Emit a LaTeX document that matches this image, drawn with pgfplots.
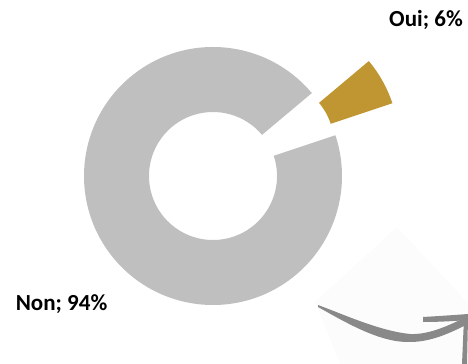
\documentclass[border=0pt]{standalone}
\usepackage{pgfplots}
\pgfplotsset{compat=1.18}
\usepackage{pgfplotstable}
\usepackage{fontspec}
\setmainfont{Carlito}
\definecolor{nongray}{HTML}{BFBFBF}
\definecolor{ouigold}{HTML}{BF9632}
\definecolor{arrowgray}{HTML}{898989}
\definecolor{shadowgray}{HTML}{FCFCFC}

\pgfplotstableread{
label value
Oui 6
Non 94
}\piedata

\begin{document}
\begin{tikzpicture}
\useasboundingbox (0,0) rectangle (468bp,364bp);
\clip (0,0) rectangle (468bp,364bp);
\pgfplotstablegetelem{0}{value}\of\piedata \let\vOui\pgfplotsretval
\pgfplotstablegetelem{1}{value}\of\piedata \let\vNon\pgfplotsretval
\pgfmathsetmacro{\aStart}{40}
\pgfmathsetmacro{\aOuiEnd}{\aStart-3.6*\vOui}
\pgfmathsetmacro{\aNonEnd}{\aStart+3.6*\vNon}
\pgfmathsetmacro{\aNonBack}{\aNonEnd+180}
\begin{axis}[width=468bp,height=364bp,scale only axis,anchor=south west,at={(0,0)},
  xmin=0,xmax=468,ymin=0,ymax=364,hide axis,clip=false]
% faint shadow behind arrow
\fill[shadowgray] (315,62) -- (397,137) -- (468,61) -- (468,0) -- (340,0) -- cycle;
% Non slice
\fill[nongray] (213,188) ++(\aStart:129bp) arc[start angle=\aStart,end angle=\aNonEnd,radius=129bp]
  -- ++(\aNonBack:65bp) arc[start angle=\aNonEnd,end angle=\aStart,radius=64bp] -- cycle;
% Oui slice (exploded)
\fill[ouigold] (270,220) ++(\aOuiEnd:129bp) arc[start angle=\aOuiEnd,end angle=\aStart,radius=129bp]
  -- ++({\aStart+180}:65bp) arc[start angle=\aStart,end angle=\aOuiEnd,radius=64bp] -- cycle;
% labels
\node[anchor=base,inner sep=0pt,font=\bfseries\fontsize{23bp}{27bp}\selectfont] at (426,337) {Oui; 6\%};
\node[anchor=base,inner sep=0pt,font=\bfseries\fontsize{23bp}{27bp}\selectfont] at (61.5,53) {Non; 94\%};
% decorative arrow
\fill[arrowgray] (318,59) .. controls (345,49) and (380,33) .. (410,30)
  .. controls (430,29) and (452,40) .. (468,48) -- (468,40)
  .. controls (452,32) and (432,22) .. (410,22)
  .. controls (380,21) and (345,42) .. (318,57) -- cycle;
\fill[arrowgray] (423,47) .. controls (440,48) and (455,49) .. (468,50) -- (468,44)
  .. controls (455,43) and (440,42) .. (423,42) -- cycle;
\fill[arrowgray] (462,0) -- (467,0) -- (468,46) -- (464,46) -- cycle;
\end{axis}
\end{tikzpicture}
\end{document}
